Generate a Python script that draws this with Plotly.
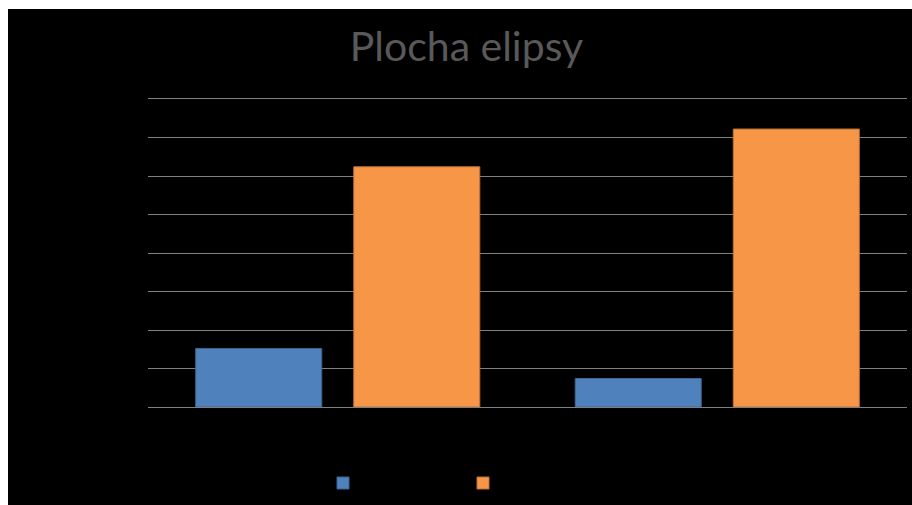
import plotly.graph_objects as go

# Chart data
categories = ["Elipsa 1", "Elipsa 2"]
series_names = ["Monte Carlo", "Vzorec"]
monte_carlo = [1.52, 0.74]
vzorec = [6.24, 7.22]
y_ticks = [0, 1, 2, 3, 4, 5, 6, 7, 8]

W, H = 912, 505
L, R, T, B = 148, 5, 99, 98

fig = go.Figure()
fig.add_trace(go.Bar(
    x=categories, y=monte_carlo, name=series_names[0],
    marker=dict(color="#4F81BD", line=dict(color="#3B6493", width=1)),
))
fig.add_trace(go.Bar(
    x=categories, y=vzorec, name=series_names[1],
    marker=dict(color="#F79646", line=dict(color="#B8703A", width=1)),
))

pw = W - L - R
ph = H - T - B


def px_to_paper_x(px):
    return (px - L) / pw


def px_to_paper_y(py):
    return (H - B - py) / ph


# white strips along the top and left edges of the canvas
shapes = [
    dict(type="rect", xref="paper", yref="paper",
         x0=px_to_paper_x(0), x1=px_to_paper_x(W),
         y0=px_to_paper_y(9), y1=px_to_paper_y(0),
         fillcolor="white", line=dict(width=0), layer="above"),
    dict(type="rect", xref="paper", yref="paper",
         x0=px_to_paper_x(0), x1=px_to_paper_x(8),
         y0=px_to_paper_y(H), y1=px_to_paper_y(0),
         fillcolor="white", line=dict(width=0), layer="above"),
]

fig.update_layout(
    width=W, height=H,
    margin=dict(l=L, r=R, t=T, b=B),
    paper_bgcolor="black",
    plot_bgcolor="black",
    barmode="group",
    bargap=0.167,
    bargroupgap=0.2025,
    title=dict(
        text="Plocha elipsy",
        font=dict(family="Lato", size=41, color="#595959"),
        x=466.5 / W, xanchor="center",
        y=1 - 47 / H, yanchor="middle",
    ),
    xaxis=dict(
        showgrid=False, zeroline=False,
        showline=True, mirror=True, linecolor="#808080", linewidth=1,
        tickfont=dict(color="black", size=12),
    ),
    yaxis=dict(
        range=[0, 8], tickvals=y_ticks, showgrid=True,
        gridcolor="#808080", gridwidth=1, zeroline=False, showline=False,
        tickfont=dict(color="black", size=12),
    ),
    legend=dict(
        orientation="h", x=px_to_paper_x(323), xanchor="left",
        y=px_to_paper_y(468.5), yanchor="top",
        entrywidth=95, entrywidthmode="pixels",
        font=dict(color="black", size=12),
        bgcolor="rgba(0,0,0,0)",
    ),
    shapes=shapes,
)

fig.write_html("out.html")
